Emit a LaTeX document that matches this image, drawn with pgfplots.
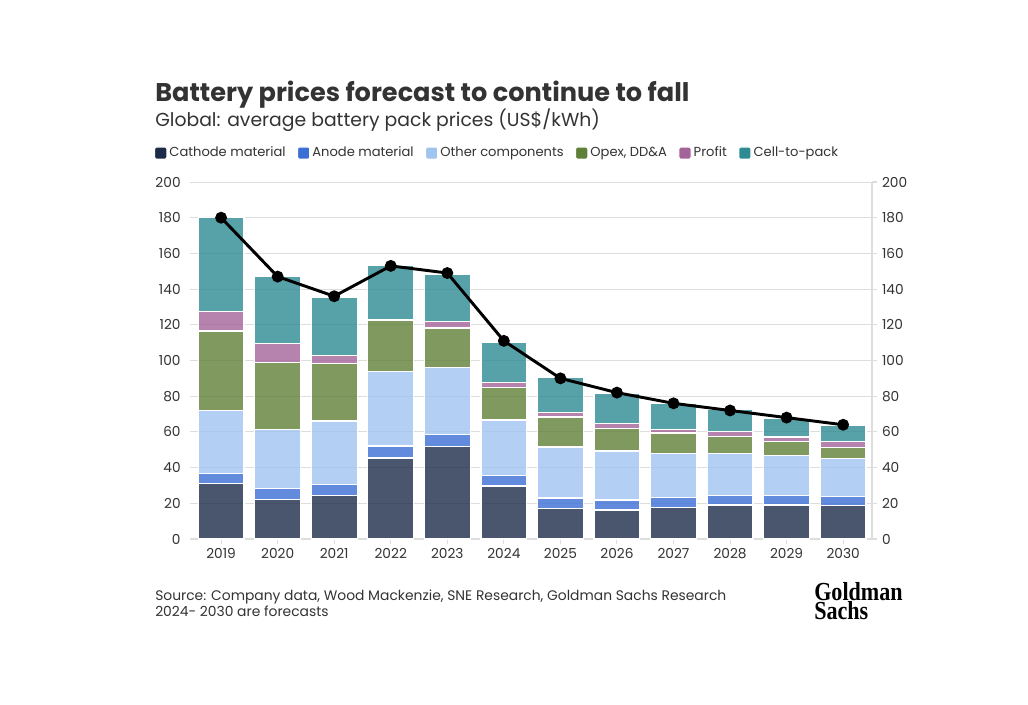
\documentclass[border=0pt]{standalone}
\usepackage{pgfplots}
\usepackage{pgfplotstable}
\pgfplotsset{compat=1.18}
\usepackage{fontspec}
\setmainfont{Poppins}
\newfontfamily\logofont[FakeStretch=0.85]{Liberation Serif}

\definecolor{cathode}{HTML}{1D2B4A}
\definecolor{anode}{HTML}{3B6FD6}
\definecolor{other}{HTML}{A0C4F0}
\definecolor{opex}{HTML}{5F8038}
\definecolor{profit}{HTML}{A3649A}
\definecolor{cell}{HTML}{2E8A93}
\definecolor{txt}{HTML}{333333}
\definecolor{gridc}{HTML}{DDDDDD}

% segments, US$/kWh
\pgfplotstableread{
x  cat  ano  oth  opex prof cell
0  31.2 5.6  35.1 44.6 10.8 52.7
1  22.2 6.0  33.0 37.6 10.6 37.8
2  24.5 5.9  35.7 32.3 4.5  32.7
3  45.4 6.7  41.6 29.0 0.0  30.8
4  51.7 6.7  37.6 22.2 3.5  26.8
5  29.7 6.0  31.0 18.1 3.0  22.6
6  17.0 6.0  28.5 16.8 2.7  19.4
7  16.2 5.6  27.5 12.7 2.8  16.6
8  17.6 5.6  24.6 11.6 1.8  14.6
9  19.0 5.3  23.5 9.7  2.6  12.3
10 19.0 5.3  22.4 8.0  2.4  10.5
11 18.7 5.2  21.1 6.2  3.5  8.8
}\segs

\pgfplotstableread{
x  total
0  180
1  147
2  136
3  153
4  149
5  111
6  90
7  82
8  76
9  72
10 68
11 64
}\totals

\pgfplotsset{
  common/.style={
    scale only axis,
    width=511.5pt, height=267.75pt,
    at={(142.5pt,123.75pt)}, anchor=south west,
    xmin=-0.55, xmax=11.51,
    ymin=0, ymax=200, ytick distance=20,
    /pgf/number format/assume math mode=true,
    ticklabel style={font=\fontsize{10.3}{12}\selectfont, text=txt},
  },
  seg/.style={fill=#1, draw=white, line width=0.9pt, fill opacity=0.8},
}

\begin{document}
\begin{tikzpicture}
\fill[white] (0,0) rectangle (771pt,528pt);

\begin{axis}[
  common,
  ybar stacked, bar width=0.81,
  axis x line*=bottom, axis y line*=left,
  y axis line style={draw=none},
  x axis line style={gridc, line width=0.8pt},
  xtick={0,...,11},
  xticklabels={2019,2020,2021,2022,2023,2024,2025,2026,2027,2028,2029,2030},
  xtick style={gridc, line width=0.8pt},
  ytick style={draw=none},
  tick align=outside, major tick length=3.5pt,
  ymajorgrids, grid style={gridc, line width=0.7pt},
  legend style={draw=none, fill=none, at={(-0.059,1.081)}, anchor=west,
    legend columns=-1, font=\fontsize{9.8}{11}\selectfont, text=txt,
    /tikz/every even column/.append style={column sep=7pt},
    nodes={inner sep=1.5pt, text height=0.75em, text depth=0.25em}},
  legend image code/.code={
    \fill[fill opacity=1, rounded corners=1.5pt] (0pt,-4.6pt) rectangle (9.2pt,4.6pt);},
]
\addplot[seg=cathode] table[x=x, y=cat] {\segs};
\addplot[seg=anode] table[x=x, y=ano] {\segs};
\addplot[seg=other] table[x=x, y=oth] {\segs};
\addplot[seg=opex] table[x=x, y=opex] {\segs};
\addplot[seg=profit] table[x=x, y=prof] {\segs};
\addplot[seg=cell] table[x=x, y=cell] {\segs};
\legend{Cathode material, Anode material, Other components, {Opex, DD\&A}, Profit, Cell-to-pack}
\end{axis}

\begin{axis}[
  common,
  axis y line*=right, axis x line=none,
  y axis line style={gridc, line width=0.8pt},
  ytick style={gridc, line width=0.8pt},
  tick align=outside, major tick length=4pt,
  xtick=\empty,
]
\addplot[black, line width=2.2pt, mark=*, mark size=3.3pt] table[x=x, y=total] {\totals};
\end{axis}

\begin{scope}[x=0.75pt, y=0.75pt]
\node[anchor=base west, inner sep=0, text=txt, font=\bfseries\fontsize{19.2}{22}\selectfont]
  at (155,602.5) {Battery prices forecast to continue to fall};
\node[anchor=base west, inner sep=0, text=txt, font=\fontsize{14.1}{16}\selectfont]
  at (155,577.5) {Global: average battery pack prices (US\$/kWh)};
\node[anchor=north west, inner sep=0, text=txt, align=left, font=\fontsize{10.4}{10.3}\selectfont]
  at (155,114) {Source: Company data, Wood Mackenzie, SNE Research, Goldman Sachs Research\\2024- 2030 are forecasts};
\node[anchor=north west, inner sep=0, align=left, font=\logofont\bfseries\fontsize{19.5}{14.6}\selectfont]
  at (814,122) {Goldman\\Sachs};
\end{scope}
\end{tikzpicture}
\end{document}
